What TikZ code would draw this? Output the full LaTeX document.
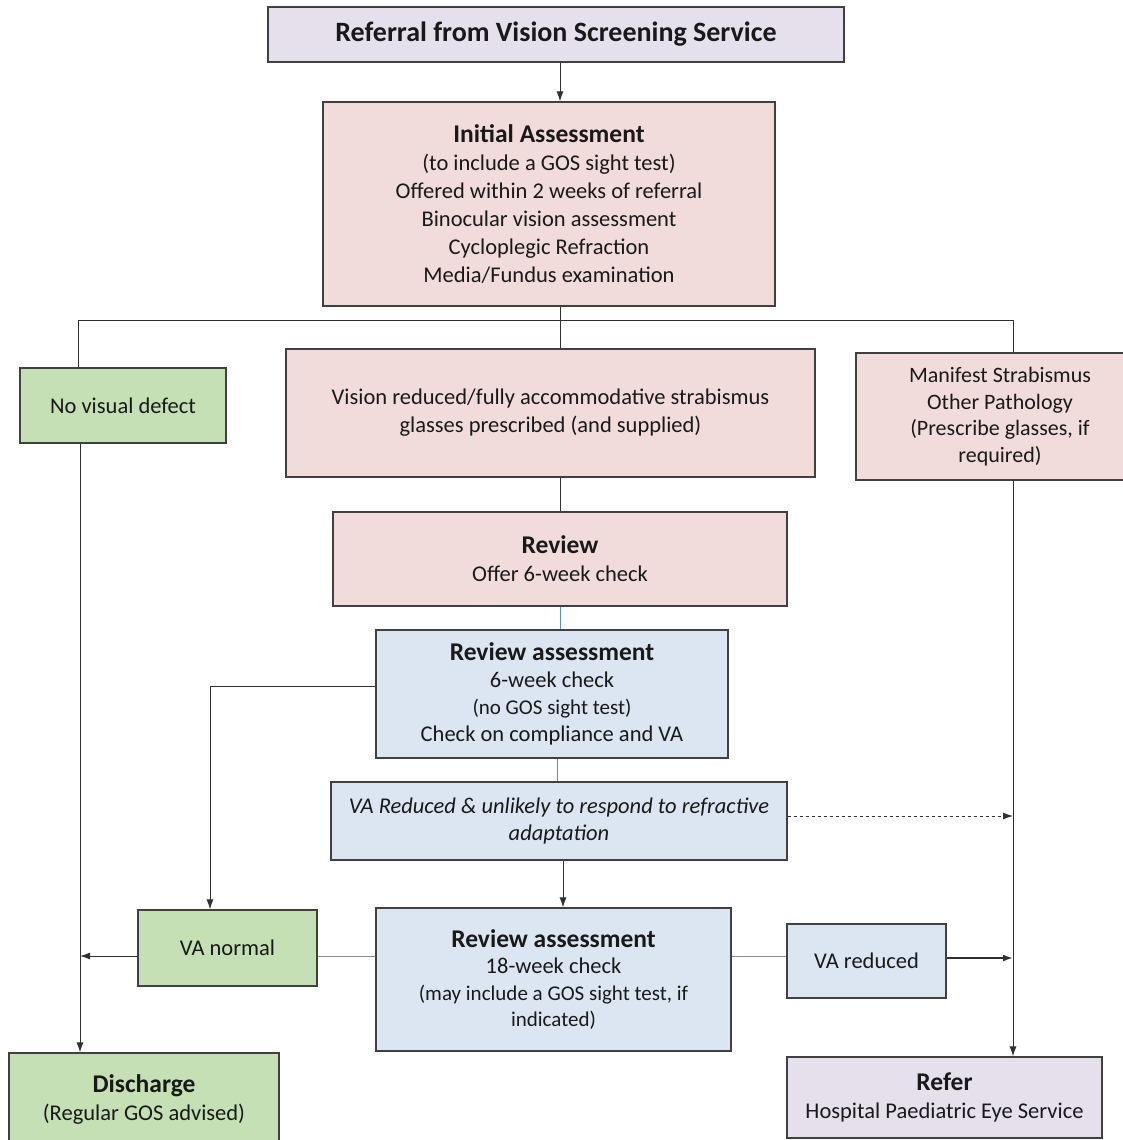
\documentclass[tikz,border=0pt]{standalone}
\usepackage{fontspec}
\setmainfont{Carlito}
\usetikzlibrary{arrows.meta}
\definecolor{lav}{HTML}{E6E0EC}
\definecolor{pinkf}{HTML}{F2DCDB}
\definecolor{greenf}{HTML}{C5E0B4}
\definecolor{bluef}{HTML}{DCE6F2}
\definecolor{bord}{HTML}{404040}
\definecolor{conn}{HTML}{303030}
\definecolor{bluel}{HTML}{5B8FD0}
\newcommand{\ttlfont}{\fontsize{25.5}{28}\selectfont\bfseries}
\newcommand{\smfont}{\fontsize{21}{27}\selectfont}
\begin{document}
\begin{tikzpicture}[x=1pt,y=-1pt,
  box/.style={draw=bord,line width=1.2pt,align=center,inner sep=0pt,text=black!90,
    font=\fontsize{22.5}{28}\selectfont},
  lavbox/.style={box,fill=lav},
  pinkbox/.style={box,fill=pinkf},
  greenbox/.style={box,fill=greenf},
  bluebox/.style={box,fill=bluef},
  ln/.style={draw=conn,line width=1pt},
  arr/.style={ln,-{Latex[length=10pt,width=7pt]}},
  grayln/.style={draw=black!45,line width=1pt},
  blueln/.style={draw=bluel,line width=0.7pt}
]
\useasboundingbox (0,0) rectangle (1122,1140);

\node[lavbox,minimum width=576pt,minimum height=55pt] (ref) at (556,34.5)
  {\fontsize{28}{30}\selectfont\bfseries Referral from Vision Screening Service};

\node[pinkbox,minimum width=452pt,minimum height=204pt] (init) at (549,204)
  {{\ttlfont Initial Assessment}\\
   (to include a GOS sight test)\\
   Offered within 2 weeks of referral\\
   Binocular vision assessment\\
   Cycloplegic Refraction\\
   Media/Fundus examination};

\node[greenbox,minimum width=206pt,minimum height=75pt] (nvd) at (123,405.5)
  {No visual defect};

\node[pinkbox,minimum width=529pt,minimum height=128pt] (vis) at (550.5,413)
  {Vision reduced/fully accommodative strabismus\\
   glasses prescribed (and supplied)};

\node[pinkbox,minimum width=288pt,minimum height=127pt,font=\fontsize{22}{26.5}\selectfont] (man) at (1000,416.5)
  {Manifest Strabismus\\
   Other Pathology\\
   (Prescribe glasses, if\\
   required)};

\node[pinkbox,minimum width=454pt,minimum height=94pt] (rev) at (560,559)
  {{\ttlfont Review}\\
   Offer 6-week check};

\node[bluebox,minimum width=352pt,minimum height=128pt,font=\fontsize{22.5}{27}\selectfont] (ra1) at (552,694)
  {{\ttlfont Review assessment}\\
   6-week check\\
   {\smfont (no GOS sight test)}\\
   Check on compliance and VA};

\node[bluebox,minimum width=456pt,minimum height=78pt,font=\fontsize{22.5}{27}\selectfont\itshape] (var) at (559,821)
  {VA Reduced \& unlikely to respond to refractive\\
   adaptation};

\node[greenbox,minimum width=179pt,minimum height=76pt] (van) at (227.5,948)
  {VA normal};

\node[bluebox,minimum width=355pt,minimum height=143pt,font=\fontsize{22.5}{26.5}\selectfont] (ra2) at (553.5,979.5)
  {{\ttlfont Review assessment}\\
   18-week check\\
   {\smfont (may include a GOS sight test, if}\\
   {\smfont indicated)}};

\node[bluebox,minimum width=159pt,minimum height=74pt] (vrd) at (866.5,961)
  {VA reduced};

\node[greenbox,minimum width=270pt,minimum height=92pt] (disc) at (144,1099)
  {{\ttlfont Discharge}\\
   (Regular GOS advised)};

\node[lavbox,minimum width=315pt,minimum height=81pt] (refer) at (944.5,1097.5)
  {{\ttlfont Refer}\\
   Hospital Paediatric Eye Service};

% helper coordinates
\coordinate (cx) at (560,0);
\coordinate (bl) at (78,320);
\coordinate (br) at (1013,320);
\coordinate (lx) at (80,0);
\coordinate (rx) at (1013,0);
\coordinate (k1) at (210,686);
\coordinate (hy) at (0,956);

% connectors
\draw[arr] (ref.south -| cx) -- (init.north -| cx);
\draw[ln] (init.south -| cx) -- (vis.north -| cx);
\draw[ln] (nvd.north -| bl) -- (bl) -- (br) -- (man.north -| br);
\draw[ln] (vis.south -| cx) -- (rev.north -| cx);
\draw[blueln] (rev.south -| cx) -- (ra1.north -| cx);
\draw[blueln] (ra1.south -| 557,0) -- (var.north -| 557,0);
\draw[arr] (ra1.west |- k1) -- (k1) -- (k1 |- van.north);
\draw[arr,dashed] (var.east |- 0,816) -- (rx |- 0,816);
\draw[arr] (var.south -| 563,0) -- (ra2.north -| 563,0);
\draw[grayln] (ra2.west |- hy) -- (van.east |- hy);
\draw[arr] (van.west |- hy) -- (lx |- hy);
\draw[grayln] (ra2.east |- hy) -- (vrd.west |- hy);
\draw[arr,line width=1.8pt] (vrd.east |- 0,958) -- (rx |- 0,958);
\draw[arr] (nvd.south -| lx) -- (disc.north -| lx);
\draw[arr] (man.south -| rx) -- (refer.north -| rx);
\end{tikzpicture}
\end{document}
